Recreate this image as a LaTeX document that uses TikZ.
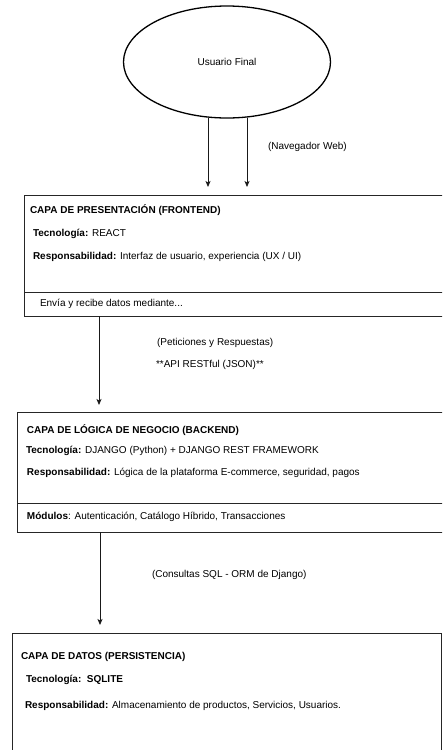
\documentclass[tikz,border=0pt]{standalone}
\usepackage{fontspec}
\setmainfont{Liberation Sans}
\usetikzlibrary{arrows.meta, positioning, shapes.geometric}

\begin{document}
\begin{tikzpicture}[
            x=1pt, y=-1pt,
            every node/.style={font=\fontsize{10}{12}\selectfont, inner sep=0pt, outer sep=0pt},
            layer/.style={draw=black!85, line width=0.9pt, rectangle, anchor=north west},
            divider/.style={draw=black!85, line width=0.9pt},
            txt/.style={anchor=west},
            arr/.style={-{Stealth[length=6pt, width=5pt, inset=1.5pt]}, line width=0.8pt, black!90}
        ]
        \clip (0,0) rectangle (442,750);

        % Nodes
        \node[ellipse, draw, line width=1.3pt, minimum width=207pt, minimum height=112pt] (user) at (227,62) {Usuario Final};

        \node[layer, minimum width=450pt, minimum height=121pt] (front) at (24,195) {};
        \node[layer, minimum width=460pt, minimum height=120pt] (back) at (17,412) {};
        \node[layer, minimum width=429pt, minimum height=140pt] (data) at (12,633) {};

        % Text in the layers
        \node[txt] (fetitle) at (30,210) {\textbf{CAPA DE PRESENTACIÓN (FRONTEND)}};
        \node[txt] (fetech) at (33,234) {\textbf{Tecnología:} REACT};
        \node[txt] (feresp) at (33,257) {\textbf{Responsabilidad:} Interfaz de usuario, experiencia (UX / UI)};
        \node[txt] (fesend) at (40,304) {Envía y recibe datos mediante...};

        \node[txt] (betitle) at (27,430) {\textbf{CAPA DE LÓGICA DE NEGOCIO (BACKEND)}};
        \node[txt] (betech) at (26,451) {\textbf{Tecnología:} DJANGO (Python) + DJANGO REST FRAMEWORK};
        \node[txt] (beresp) at (27,473) {\textbf{Responsabilidad:} Lógica de la plataforma E-commerce, seguridad, pagos};
        \node[txt] (bemod) at (27,517) {\textbf{Módulos}: Autenticación, Catálogo Híbrido, Transacciones};

        \node[txt] (dbtitle) at (21,657) {\textbf{CAPA DE DATOS (PERSISTENCIA)}};
        \node[txt] (dbtech) at (26,680) {\textbf{Tecnología:\ \ SQLITE}};
        \node[txt] (dbresp) at (25,706) {\textbf{Responsabilidad:} Almacenamiento de productos, Servicios, Usuarios.};

        % Dividers
        \coordinate (fediv) at (24,292);
        \coordinate (bediv) at (17,503);
        \draw[divider] (fediv) -- (fediv -| front.east);
        \draw[divider] (bediv) -- (bediv -| back.east);

        % Arrows
        \coordinate (in1) at (208,187);
        \coordinate (in2) at (247,187);
        \coordinate (toback) at (99,405);
        \coordinate (todata) at (100,625);
        \draw[arr] (user.south -| in1) -- (in1);
        \draw[arr] (user.south -| in2) -- (in2);
        \draw[arr] (front.south -| toback) -- (toback);
        \draw[arr] (back.south -| todata) -- (todata);

        % Labels
        \node[txt] (nav) at (268,147) {(Navegador Web)};
        \node[txt] (req) at (157,343) {(Peticiones y Respuestas)};
        \node[txt] (api) at (156,365) {**API RESTful (JSON)**};
        \node[txt] (sql) at (152,575) {(Consultas SQL - ORM de Django)};
        \end{tikzpicture}
\end{document}
